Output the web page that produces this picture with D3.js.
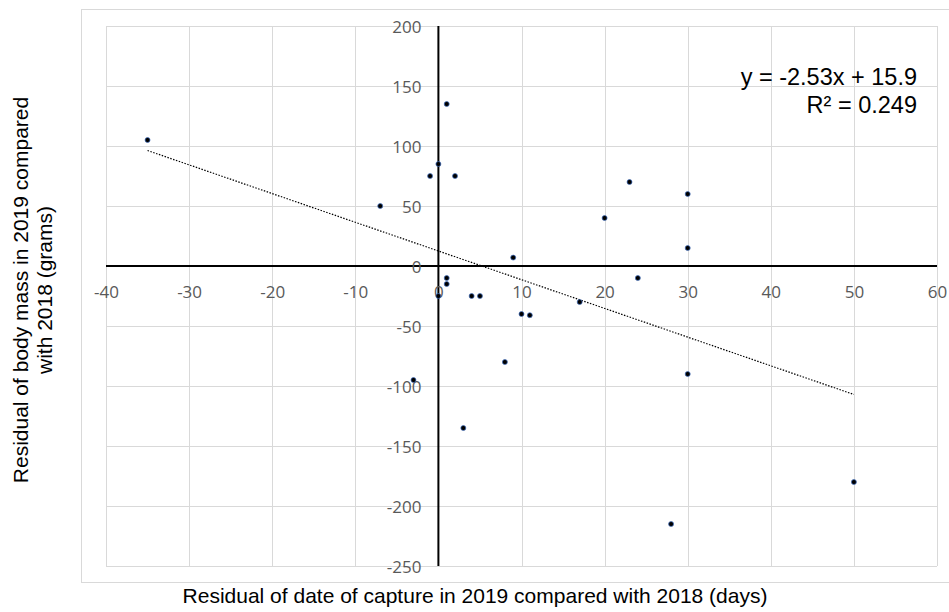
<!DOCTYPE html>
<html>
<head>
<meta charset="utf-8">
<script src="https://cdn.jsdelivr.net/npm/d3@7"></script>
<style>
  body { margin: 0; background: #fff; }
  svg { display: block; }
  .tick text { font-family: "Open Sans", sans-serif; fill: #595959; }
</style>
</head>
<body>
<div id="chart-area"></div>
<script>
// residuals: date (days) and body mass (grams)
const dateResid = [-35, -7, -1, 0, 1, 2, 9, 20, 23, 24, 1, 1, 0, 4, 5, 10, 11, 17, 8, -3, 3, 28, 30, 30, 30, 50];
const massResid = [105, 50, 75, 85, 135, 75, 7, 40, 70, -10, -10, -15, -25, -25, -25, -40, -41, -30, -80, -95, -135, -215, 60, 15, -90, -180];
const xTicks = [-40, -30, -20, -10, 0, 10, 20, 30, 40, 50, 60];
const yTicks = [-250, -200, -150, -100, -50, 0, 50, 100, 150, 200];
const equationText = ['y = -2.53x + 15.9', 'R² = 0.249'];

const width = 949, height = 612;
const margin = { top: 26, right: 12, bottom: 46, left: 106 };
const plotW = 937 - margin.left;
const plotH = 566 - margin.top;

const svg = d3.select('#chart-area')
  .append('svg')
    .attr('width', width)
    .attr('height', height);

// outer chart frame
svg.append('rect')
  .attr('x', 81.5).attr('y', 9.5)
  .attr('width', 900).attr('height', 573)
  .attr('fill', 'none')
  .attr('stroke', '#d9d9d9')
  .attr('stroke-width', 1);

const g = svg.append('g')
  .attr('transform', `translate(${margin.left},${margin.top})`);

const xScale = d3.scaleLinear().domain([-40, 60]).range([0, plotW]);
const yScale = d3.scaleLinear().domain([-250, 200]).range([plotH, 0]);

// gridlines
g.append('g').selectAll('line')
  .data(xTicks)
  .join('line')
    .attr('x1', d => Math.round(xScale(d)) + 0.5)
    .attr('x2', d => Math.round(xScale(d)) + 0.5)
    .attr('y1', 0).attr('y2', plotH)
    .attr('stroke', '#d9d9d9');

g.append('g').selectAll('line')
  .data(yTicks)
  .join('line')
    .attr('y1', d => Math.round(yScale(d)) + 0.5)
    .attr('y2', d => Math.round(yScale(d)) + 0.5)
    .attr('x1', 0).attr('x2', plotW)
    .attr('stroke', '#d9d9d9');

// zero axes
g.append('line')
  .attr('x1', 0).attr('x2', plotW)
  .attr('y1', yScale(0)).attr('y2', yScale(0))
  .attr('stroke', '#000').attr('stroke-width', 2);
g.append('line')
  .attr('x1', xScale(0)).attr('x2', xScale(0))
  .attr('y1', 0).attr('y2', plotH)
  .attr('stroke', '#000').attr('stroke-width', 2);

// tick labels (plain hyphen for negatives, like the original)
const xAxisCall = d3.axisBottom(xScale).tickValues(xTicks).tickSize(0).tickFormat(d => String(d));
const xAxisGroup = g.append('g')
  .attr('transform', `translate(0,${yScale(0)})`)
  .call(xAxisCall);
xAxisGroup.select('.domain').remove();
xAxisGroup.selectAll('text')
  .attr('font-size', 17)
  .attr('y', 32)
  .attr('dy', null);

const yAxisCall = d3.axisLeft(yScale).tickValues(yTicks).tickSize(0).tickFormat(d => String(d));
const yAxisGroup = g.append('g')
  .attr('transform', `translate(${xScale(0) - 17},0)`)
  .call(yAxisCall);
yAxisGroup.select('.domain').remove();
yAxisGroup.selectAll('text')
  .attr('font-size', 17)
  .attr('x', 0)
  .attr('dy', 6);

// least squares trend line over the data
const mx = d3.mean(dateResid), my = d3.mean(massResid);
let sxy = 0, sxx = 0;
dateResid.forEach((x, i) => { sxy += (x - mx) * (massResid[i] - my); sxx += (x - mx) * (x - mx); });
const slope = sxy / sxx;
const intercept = my - slope * mx;
const [xMin, xMax] = d3.extent(dateResid);

g.append('line')
  .attr('x1', xScale(xMin)).attr('y1', yScale(slope * xMin + intercept))
  .attr('x2', xScale(xMax)).attr('y2', yScale(slope * xMax + intercept))
  .attr('stroke', '#000')
  .attr('stroke-width', 1.2)
  .attr('stroke-dasharray', '1.5,1.5');

// points
g.append('g').selectAll('circle')
  .data(dateResid.map((d, i) => ({ x: d, y: massResid[i] })))
  .join('circle')
    .attr('cx', d => xScale(d.x))
    .attr('cy', d => yScale(d.y))
    .attr('r', 2.5)
    .attr('fill', '#000')
    .attr('stroke', '#4472c4')
    .attr('stroke-width', 0.7);

// equation
const eq = svg.append('text')
  .attr('text-anchor', 'end')
  .attr('font-family', 'Liberation Sans, Arial, sans-serif')
  .attr('font-size', 23.5)
  .attr('fill', '#000');
equationText.forEach((t, i) => {
  eq.append('tspan').attr('x', 917).attr('y', 85 + i * 27.5).text(t);
});

// axis titles
svg.append('text')
  .attr('x', 475).attr('y', 603)
  .attr('text-anchor', 'middle')
  .attr('font-family', 'Liberation Sans, Arial, sans-serif')
  .attr('font-size', 21)
  .text('Residual of date of capture in 2019 compared with 2018 (days)');

const yTitle = svg.append('text')
  .attr('transform', 'translate(0,290) rotate(-90)')
  .attr('text-anchor', 'middle')
  .attr('font-family', 'Liberation Sans, Arial, sans-serif')
  .attr('font-size', 21);
yTitle.append('tspan').attr('x', 0).attr('y', 28).text('Residual of body mass in 2019 compared');
yTitle.append('tspan').attr('x', 0).attr('y', 52).text('with 2018 (grams)');
</script>
</body>
</html>
